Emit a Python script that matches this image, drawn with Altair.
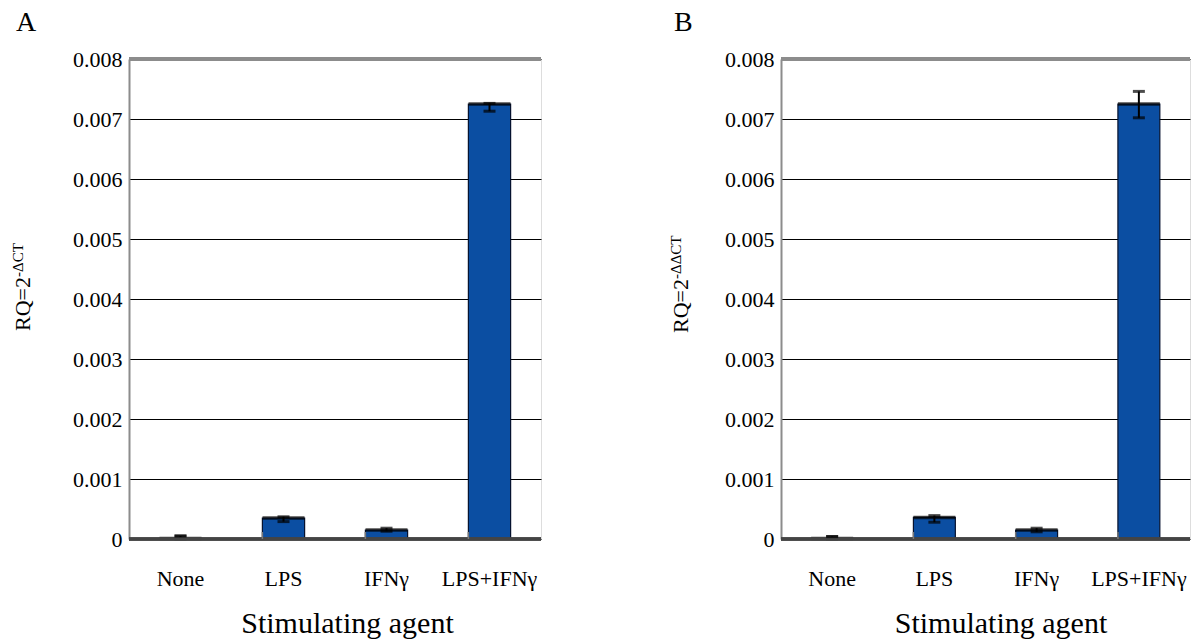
import altair as alt
import pandas as pd

# ---------------- data ----------------
categories = ["None", "LPS", "IFNγ", "LPS+IFNγ"]
boundary_cats = ["LPS", "IFNγ", "LPS+IFNγ"]

a_mean = [0.00001, 0.00035, 0.00015, 0.00725]
a_low = [0.0, 0.00029, 0.00013, 0.00713]
a_high = [0.00005, 0.00037, 0.00018, 0.00726]

b_mean = [0.00001, 0.00036, 0.00015, 0.00725]
b_low = [0.0, 0.00028, 0.00012, 0.00702]
b_high = [0.00004, 0.00039, 0.00018, 0.00746]

y_ticks = [0, 0.001, 0.002, 0.003, 0.004, 0.005, 0.006, 0.007, 0.008]

FONT = "Liberation Serif"
BLUE = "#0b4ea2"
H = 480


def panel(mean, low, high, letter, sup, width, letter_x, title_x, title_y, title_dx):
    df = pd.DataFrame({"cat": categories, "mean": mean, "low": low, "high": high})
    bdf = pd.DataFrame({"cat": boundary_cats})
    xscale = alt.Scale(paddingInner=0.59, paddingOuter=0.295)
    yscale = alt.Scale(domain=[0, 0.008], nice=False, zero=True)

    xax = alt.Axis(labelFont=FONT, labelFontSize=22, labelColor="black", labelAngle=0,
                   ticks=False, domain=False, grid=False, labelPadding=29,
                   titleFont=FONT, titleFontSize=30, titleFontWeight="normal",
                   titleColor="black", titlePadding=19, titleX=width / 2 + title_dx)
    yax = alt.Axis(values=y_ticks, format=".3~f", labelFont=FONT, labelFontSize=22,
                   labelColor="black", ticks=False, labelPadding=7, grid=True,
                   gridColor="black", gridWidth=1, gridOpacity=1, domain=True,
                   domainColor="#8c8c8c", domainWidth=2)
    XT = "Stimulating agent"

    def X(**kw):
        return alt.X("cat:N", sort=categories, scale=xscale, axis=xax, title=XT, **kw)

    def Y(field):
        return alt.Y(field, scale=yscale, axis=yax, title=None)

    bars = alt.Chart(df).mark_bar(color=BLUE, stroke="#06122e", strokeWidth=1.2).encode(x=X(), y=Y("mean:Q"))
    topband = alt.Chart(df).mark_tick(color="black", thickness=3.5, size=42).encode(x=X(), y=Y("mean:Q"))
    err = alt.Chart(df).mark_rule(color="black", strokeWidth=2).encode(x=X(), y=Y("low:Q"), y2="high:Q")
    cap_lo = alt.Chart(df).mark_tick(color="black", thickness=3, size=12).encode(x=X(), y=Y("low:Q"))
    cap_hi = alt.Chart(df).mark_tick(color="black", thickness=3, size=12).encode(x=X(), y=Y("high:Q"))
    top_line = alt.Chart(df).mark_rule(color="#8c8c8c", strokeWidth=4).encode(
        y=alt.YDatum(0.008, scale=yscale, axis=yax, title=None))
    zero_line = alt.Chart(df).mark_rule(color="#444444", strokeWidth=3).encode(
        y=alt.YDatum(0, scale=yscale, axis=yax, title=None))
    btick = alt.Chart(bdf).mark_rule(color="#777777", strokeWidth=1.5).encode(
        x=X(bandPosition=0), y=alt.YDatum(0, scale=yscale, axis=yax, title=None), y2=alt.value(H - 7))
    none_cap = alt.Chart(df[df["cat"] == "None"]).mark_tick(color="black", thickness=3, size=12).encode(
        x=X(), y=Y("high:Q"))

    letter_t = alt.Chart(pd.DataFrame({"t": [letter]})).mark_text(
        font=FONT, fontSize=28, align="left", baseline="alphabetic", color="black"
    ).encode(x=alt.value(letter_x), y=alt.value(-28), text="t:N")
    main_t = alt.Chart(pd.DataFrame({"t": ["RQ=2"]})).mark_text(
        font=FONT, fontSize=22, align="right", baseline="middle", angle=270, color="black"
    ).encode(x=alt.value(title_x), y=alt.value(title_y), text="t:N")
    sup_t = alt.Chart(pd.DataFrame({"t": [sup]})).mark_text(
        font=FONT, fontSize=15, align="left", baseline="middle", angle=270, color="black"
    ).encode(x=alt.value(title_x - 5), y=alt.value(title_y), text="t:N")

    return alt.layer(bars, topband, err, cap_lo, cap_hi, top_line, zero_line, btick, none_cap,
                     letter_t, main_t, sup_t).properties(width=width, height=H)


pa = panel(a_mean, a_low, a_high, "A", "-ΔCT", 412, -113, -106, 218, 12)
pb = panel(b_mean, b_low, b_high, "B", "-ΔΔCT", 409, -107, -100, 220, 15)

chart = alt.hconcat(pa, pb, spacing=124).properties(
    padding={"left": 10, "top": 8, "right": 0, "bottom": 0}
).configure_view(stroke="#8c8c8c", strokeWidth=1.5).configure(background="white")

chart.save("out.html", embed_options={"renderer": "svg", "actions": False})
